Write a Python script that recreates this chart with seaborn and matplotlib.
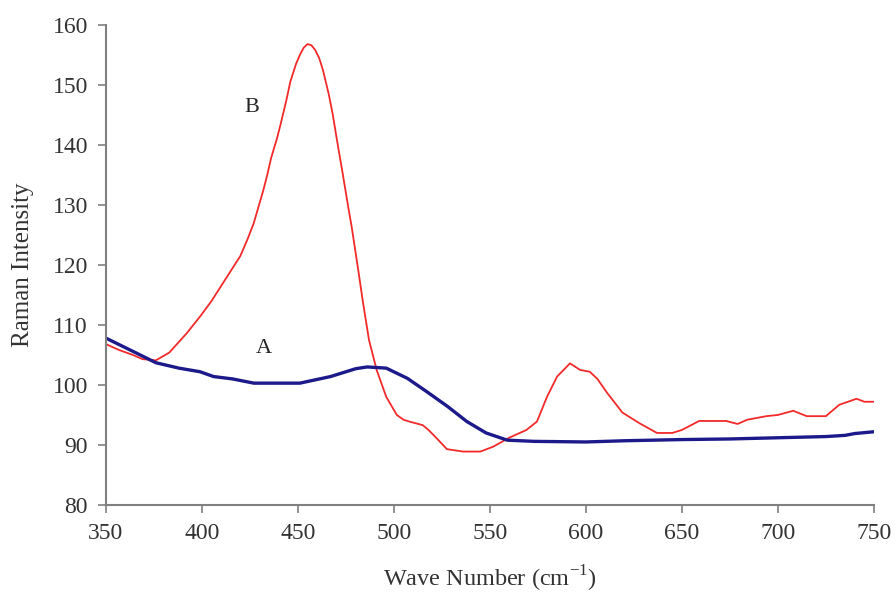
import matplotlib

matplotlib.use("Agg")

import matplotlib.pyplot as plt
import pandas as pd
import seaborn as sns

# curve B (red)
WAVE_B = [350, 357, 364, 369, 376, 383, 392, 399, 405, 410, 416, 420, 424, 427,
          432, 434, 436, 439, 441, 444, 446, 449, 451, 453, 455, 457, 459, 461,
          463, 466, 468, 471, 473, 476, 478, 481, 484, 487, 491, 496, 501.5,
          505, 508, 515, 518, 522, 527.6, 536, 545, 551.6, 560, 569, 574.5,
          579.7, 585, 591.7, 597, 602, 606, 611, 619, 628, 637, 645, 650, 659,
          665, 673, 679, 684, 694, 700, 708, 715, 725, 732, 741, 745, 750]
INTENSITY_B = [106.8, 105.8, 105.0, 104.3, 104.1, 105.4, 108.6, 111.4, 114.0,
               116.5, 119.5, 121.5, 124.5, 127.0, 132.5, 135.0, 137.8, 141.0,
               143.5, 147.5, 150.5, 153.5, 155.0, 156.2, 156.8, 156.6, 155.8,
               154.5, 152.5, 148.5, 145.3, 139.5, 135.8, 130.0, 126.3, 120.0,
               113.5, 107.5, 102.5, 98.0, 95.0, 94.2, 93.9, 93.3, 92.5, 91.2,
               89.3, 88.9, 88.9, 89.7, 91.2, 92.5, 93.9, 98.0, 101.4, 103.6,
               102.5, 102.2, 101.0, 98.7, 95.4, 93.6, 92.0, 92.0, 92.5, 94.0,
               94.0, 94.0, 93.5, 94.2, 94.8, 95.0, 95.7, 94.8, 94.8, 96.7, 97.7,
               97.2, 97.2]

# curve A (navy)
WAVE_A = [350, 364, 376, 388, 399, 406, 416, 427, 440, 451, 467, 480, 486, 496,
          507, 517, 528, 538, 548, 559, 573, 600, 620, 650, 675, 700, 725, 735,
          740, 750]
INTENSITY_A = [107.8, 105.6, 103.7, 102.8, 102.2, 101.4, 101.0, 100.3, 100.3,
               100.3, 101.4, 102.7, 103.0, 102.8, 101.1, 98.9, 96.4, 93.9, 92.0,
               90.8, 90.6, 90.5, 90.7, 90.9, 91.0, 91.2, 91.4, 91.6, 91.9, 92.2]

X_TICKS = [350, 400, 450, 500, 550, 600, 650, 700, 750]
Y_TICKS = [80, 90, 100, 110, 120, 130, 140, 150, 160]

sns.set_theme(style="ticks")
plt.rcParams["font.family"] = ["Liberation Serif", "DejaVu Serif"]
plt.rcParams["mathtext.fontset"] = "custom"
plt.rcParams["mathtext.rm"] = "Liberation Serif"

df = pd.concat([
    pd.DataFrame({"wave": WAVE_B, "intensity": INTENSITY_B, "curve": "B"}),
    pd.DataFrame({"wave": WAVE_A, "intensity": INTENSITY_A, "curve": "A"}),
])

fig = plt.figure(figsize=(8.96, 5.92), dpi=100)
ax = fig.add_axes([0.1183, 0.147, 0.857, 0.811])

sns.lineplot(data=df[df["curve"] == "B"], x="wave", y="intensity",
             color="#F22A2A", linewidth=1.3, sort=False, ax=ax)
sns.lineplot(data=df[df["curve"] == "A"], x="wave", y="intensity",
             color="#1C1A8A", linewidth=2.4, sort=False, ax=ax)

ax.text(426, 146.3, "B", fontsize=16, ha="center", va="center")
ax.text(432, 106, "A", fontsize=16, ha="center", va="center")

ax.set_xlim(350, 750)
ax.set_ylim(80, 160)
ax.set_xticks(X_TICKS)
ax.set_yticks(Y_TICKS)
ax.set_xlabel("Wave Number (cm$^{-1}$)", fontsize=17.5, color="#333333", labelpad=14)
ax.set_ylabel("Raman Intensity", fontsize=18, color="#333333", labelpad=13)
ax.tick_params(direction="out", length=6, width=1.2, color="#808080",
               labelsize=17, labelcolor="#333333", pad=7)
for side in ["left", "bottom"]:
    ax.spines[side].set_color("#808080")
    ax.spines[side].set_linewidth(1.5)
sns.despine(ax=ax)

fig.savefig("out.png", dpi=100)
